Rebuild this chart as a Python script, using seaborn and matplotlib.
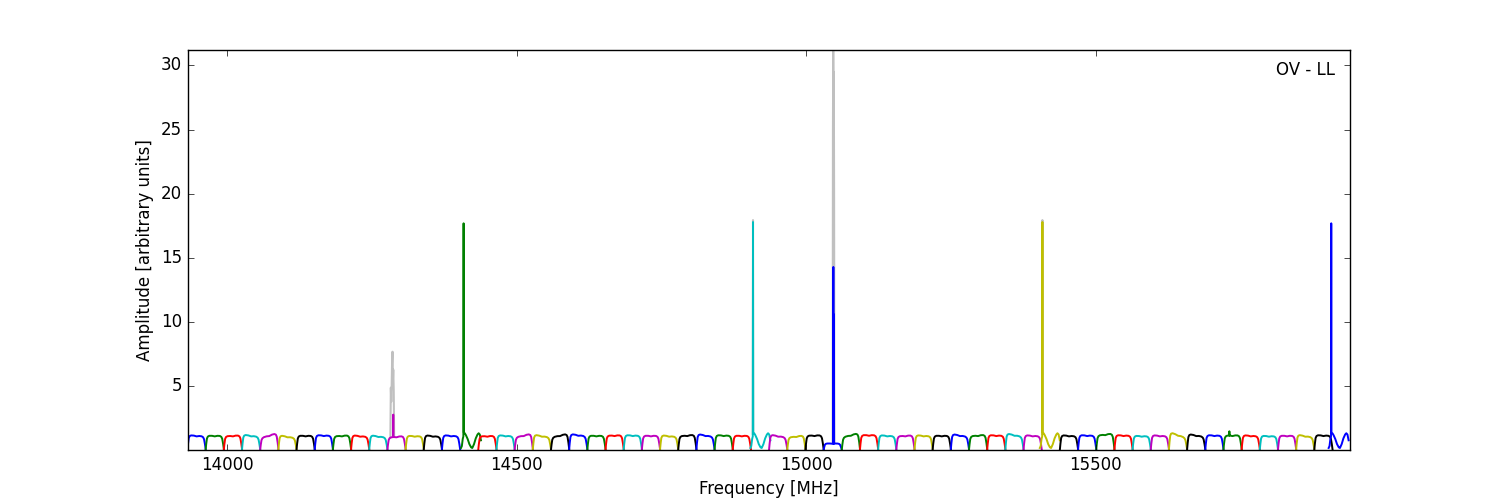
import numpy as np
import pandas as pd
import matplotlib
matplotlib.use('Agg')
import matplotlib.pyplot as plt
import seaborn as sns

# ---- subband layout (64 subbands, classic b/g/r/c/m/y/k colour cycle)
f_first = 13931.0
band_step = 31.4
n_bands = 64
band_colors = ['b', 'g', 'r', 'c', 'm', 'y', 'k']

# plateau level at the left / right edge of every subband
level_left = [1.20, 1.15, 1.10, 1.25, 0.95, 1.20, 1.15, 1.20, 1.10, 1.20,
              1.20, 1.00, 1.15, 1.20, 1.20, 1.20, 1.10, 1.20, 1.00, 1.25,
              1.00, 1.30, 1.15, 1.15, 1.20, 1.15, 1.20, 1.10, 1.30, 1.20,
              1.15, 1.20, 1.25, 1.00, 1.15, 0.55, 1.00, 1.20, 1.20, 1.10,
              1.20, 1.15, 1.30, 1.10, 1.20, 1.35, 1.20, 1.20, 1.20, 1.20,
              1.15, 1.20, 1.15, 1.20, 1.45, 1.30, 1.20, 1.15, 1.20, 1.15,
              1.15, 1.25, 1.20, 1.20]
level_right = [1.10, 1.15, 1.20, 1.05, 1.40, 0.95, 1.15, 1.15, 1.20, 1.05,
               1.00, 1.15, 1.10, 1.05, 1.10, 1.20, 1.15, 1.10, 1.35, 1.00,
               1.35, 1.10, 1.15, 1.20, 1.15, 1.15, 1.05, 1.25, 1.05, 1.15,
               1.15, 1.20, 1.00, 1.20, 1.20, 0.55, 1.40, 1.20, 1.10, 1.20,
               1.10, 1.15, 1.05, 1.25, 1.15, 1.05, 1.10, 1.20, 1.10, 1.15,
               1.35, 1.15, 1.10, 1.10, 0.95, 1.05, 1.15, 1.20, 1.10, 1.10,
               1.15, 1.00, 1.15, 1.20]

# bandpass shape of one subband (fraction of the band, relative level)
shape_pos = [0.00, 0.03, 0.07, 0.12, 0.20, 0.35, 0.50, 0.65, 0.78, 0.86, 0.91, 0.96, 1.00]
shape_val = [0.08, 0.45, 0.82, 0.95, 1.00, 1.00, 0.96, 1.00, 0.99, 0.93, 0.80, 0.45, 0.09]

# subbands that hold a comb line (shape given around the line, MHz offsets)
comb_bands = [15, 31, 47, 63]
comb_freq = [14408.0, 14908.0, 15408.0, 15907.0]
comb_peak = [17.7, 17.8, 17.8, 17.7]
comb_off = [-4.5, -3.0, -1.5, -0.4, 0.4, 2.0, 4.0, 7.0, 10.0, 13.0, 15.0,
            18.0, 21.0, 24.0, 26.0, 28.0, 30.0]
comb_val = [0.20, 0.35, 0.90, 1.10, 1.40, 1.35, 1.20, 0.90, 0.50, 0.25, 0.20,
            0.50, 0.95, 1.25, 1.35, 1.25, 0.80]

# narrow spikes inside ordinary subbands
spike_freq = [14286.5, 15046.8, 15047.8, 15731.0]
spike_amp = [2.8, 14.3, 10.6, 1.5]

# grey trace (visible only around the strong lines)
gray_freq = [14281.5, 14282.3, 14283.0, 14283.7, 14284.4, 14285.2, 14285.8, 14286.5,
             14287.3, 14288.0,
             14907.6, 14908.0, 14908.4,
             15045.6, 15046.1, 15046.6, 15047.1, 15047.6, 15048.1, 15048.6,
             15407.6, 15408.0, 15408.4]
gray_amp = [1.0, 4.9, 3.8, 5.0, 6.8, 7.7, 5.4, 6.3, 4.6, 1.1,
            1.3, 17.95, 1.3,
            0.6, 24.8, 31.2, 28.0, 29.5, 20.0, 0.6,
            1.3, 17.95, 1.3]
gray_group = [0] * 10 + [1] * 3 + [2] * 7 + [3] * 3

# ---- build the subband curves
frames = []
for i in range(n_bands):
    if i in comb_bands:
        k = comb_bands.index(i)
        f = np.append(comb_freq[k] + np.array(comb_off), comb_freq[k])
        a = np.append(np.array(comb_val), comb_peak[k])
    else:
        start = f_first + i * band_step
        pos = np.array(shape_pos)
        f = start + pos * band_step
        a = np.array(shape_val) * (level_left[i] + (level_right[i] - level_left[i]) * pos)
        for sf, sa in zip(spike_freq, spike_amp):
            if start < sf < start + band_step:
                base = np.interp(sf, f, a)
                f = np.append(f, [sf - 0.3, sf, sf + 0.3])
                a = np.append(a, [base, sa, base])
                o = np.argsort(f)
                f, a = f[o], a[o]
    o = np.argsort(f)
    frames.append(pd.DataFrame({'freq': f[o], 'amp': a[o], 'band': i}))
spec = pd.concat(frames, ignore_index=True)
gray = pd.DataFrame({'freq': gray_freq, 'amp': gray_amp, 'group': gray_group})

palette = {i: band_colors[i % 7] for i in range(n_bands)}

plt.style.use('classic')
fig = plt.figure(figsize=(15, 5), dpi=100, facecolor='white')
ax = fig.add_subplot(111)

sns.lineplot(data=gray, x='freq', y='amp', units='group', estimator=None,
             color='#c0c0c0', lw=1.5, ax=ax)
sns.lineplot(data=spec, x='freq', y='amp', hue='band', palette=palette,
             estimator=None, legend=False, lw=1.4, ax=ax)

ax.set_xlim(13931, 15939.4)
ax.set_ylim(spec['amp'].min(), max(spec['amp'].max(), gray['amp'].max()))
ax.ticklabel_format(useOffset=False)
ax.set_xlabel('Frequency [MHz]')
ax.set_ylabel('Amplitude [arbitrary units]')
ax.text(0.987, 0.95, 'OV - LL', ha='right', va='center', transform=ax.transAxes)

fig.savefig('out.png', dpi=100, facecolor='white')
